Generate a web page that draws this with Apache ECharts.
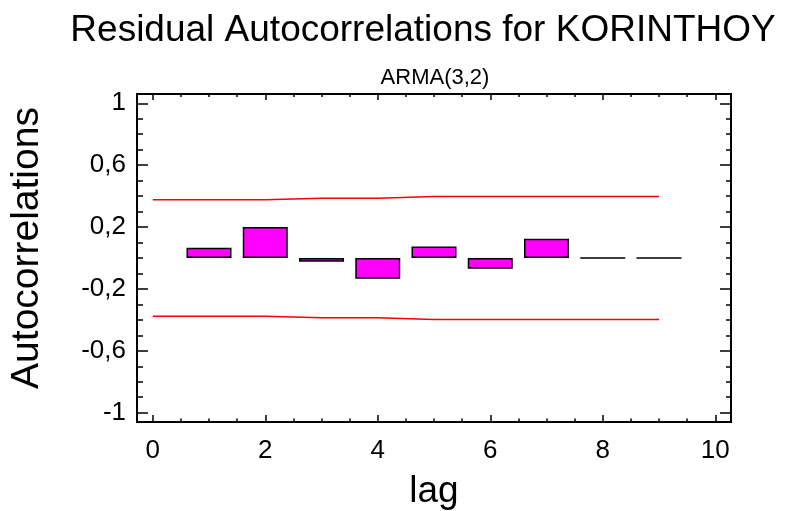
<!DOCTYPE html>
<html>
<head>
<meta charset="utf-8">
<script src="https://cdn.jsdelivr.net/npm/echarts@6/dist/echarts.min.js"></script>
<style>html,body{margin:0;padding:0;background:#fff;}#c{width:801px;height:511px;}</style>
</head>
<body>
<div id="c"></div>
<script>
// ---- data ----
var lags = [1, 2, 3, 4, 5, 6, 7, 8, 9];
var autocorr = [0.067, 0.20, -0.024, -0.134, 0.075, -0.07, 0.125, 0.0, 0.0];
var limitLags = [0, 1, 2, 3, 4, 5, 6, 7, 8, 9];
var upperLimit = [0.377, 0.377, 0.377, 0.386, 0.386, 0.397, 0.397, 0.397, 0.397, 0.397];
var lowerLimit = [-0.377, -0.377, -0.377, -0.386, -0.386, -0.397, -0.397, -0.397, -0.397, -0.397];
var xMajorTicks = [0, 2, 4, 6, 8, 10];
var xMinorTicks = [0.5, 1, 1.5, 2.5, 3, 3.5, 4.5, 5, 5.5, 6.5, 7, 7.5, 8.5, 9, 9.5];
var yMajorTicks = [-1, -0.6, -0.2, 0.2, 0.6, 1];
var yMinorTicks = [-0.9, -0.8, -0.7, -0.5, -0.4, -0.3, -0.1, 0, 0.1, 0.3, 0.4, 0.5, 0.7, 0.8, 0.9];
var titleText = 'Residual Autocorrelations for KORINTHOY';
var subtitleText = 'ARMA(3,2)';
var xName = 'lag';
var yName = 'Autocorrelations';

var FONT = '"Liberation Sans", Arial, sans-serif';
var chart = echarts.init(document.getElementById('c'), null, {renderer: 'canvas'});

function fmt(v) { return String(+(+v).toFixed(2)).replace('.', ','); }

function xAx(pos, ticks, len, labels) {
  return {
    type: 'value', position: pos, min: -0.28, max: 10.28,
    axisLine: {show: true, onZero: false, lineStyle: {color: '#000', width: 2}},
    axisTick: {show: true, inside: true, length: len, customValues: ticks, lineStyle: {color: '#000', width: 1.5}},
    axisLabel: labels ? {show: true, customValues: ticks, formatter: fmt, color: '#000', fontSize: 26, fontFamily: FONT, margin: 16} : {show: false},
    splitLine: {show: false}
  };
}
function yAx(pos, ticks, len, labels) {
  return {
    type: 'value', position: pos, min: -1.06, max: 1.06,
    axisLine: {show: true, onZero: false, lineStyle: {color: '#000', width: 2}},
    axisTick: {show: true, inside: true, length: len, customValues: ticks, lineStyle: {color: '#000', width: 1.5}},
    axisLabel: labels ? {show: true, customValues: ticks, formatter: fmt, color: '#000', fontSize: 26, fontFamily: FONT, margin: 11} : {show: false},
    splitLine: {show: false}
  };
}

var option = {
  backgroundColor: '#fff',
  animation: false,
  grid: {left: 137, right: 70, top: 94, bottom: 89, containLabel: false},
  xAxis: [
    xAx('bottom', xMajorTicks, 7, true),
    xAx('bottom', xMinorTicks, 3.5, false),
    xAx('top', xMajorTicks, 6, false),
    xAx('top', xMinorTicks, 3, false)
  ],
  yAxis: [
    yAx('left', yMajorTicks, 11, true),
    yAx('left', yMinorTicks, 6, false),
    yAx('right', yMajorTicks, 11, false),
    yAx('right', yMinorTicks, 5, false)
  ],
  graphic: [
    {type: 'text', x: 423, y: 31, style: {text: titleText, fontSize: 37, fontFamily: FONT, fill: '#000', align: 'center', verticalAlign: 'middle'}},
    {type: 'text', x: 435, y: 78, style: {text: subtitleText, fontSize: 22, fontFamily: FONT, fill: '#000', align: 'center', verticalAlign: 'middle'}},
    {type: 'text', x: 434, y: 492, style: {text: xName, fontSize: 37, fontFamily: FONT, fill: '#000', align: 'center', verticalAlign: 'middle'}},
    {type: 'text', x: 27, y: 248, rotation: Math.PI / 2, style: {text: yName, fontSize: 39, fontFamily: FONT, fill: '#000', align: 'center', verticalAlign: 'middle'}}
  ],
  series: [
    {
      type: 'bar', xAxisIndex: 0, yAxisIndex: 0, barWidth: 45,
      data: lags.map(function (l, i) { return [l, autocorr[i]]; }),
      itemStyle: {color: '#FF00FF', borderColor: '#000', borderWidth: 1.5}
    },
    {
      type: 'line', xAxisIndex: 0, yAxisIndex: 0, showSymbol: false, symbol: 'none',
      data: limitLags.map(function (l, i) { return [l, upperLimit[i]]; }),
      lineStyle: {color: '#FF0000', width: 1.5}
    },
    {
      type: 'line', xAxisIndex: 0, yAxisIndex: 0, showSymbol: false, symbol: 'none',
      data: limitLags.map(function (l, i) { return [l, lowerLimit[i]]; }),
      lineStyle: {color: '#FF0000', width: 1.5}
    }
  ]
};
chart.setOption(option);
</script>
</body>
</html>
